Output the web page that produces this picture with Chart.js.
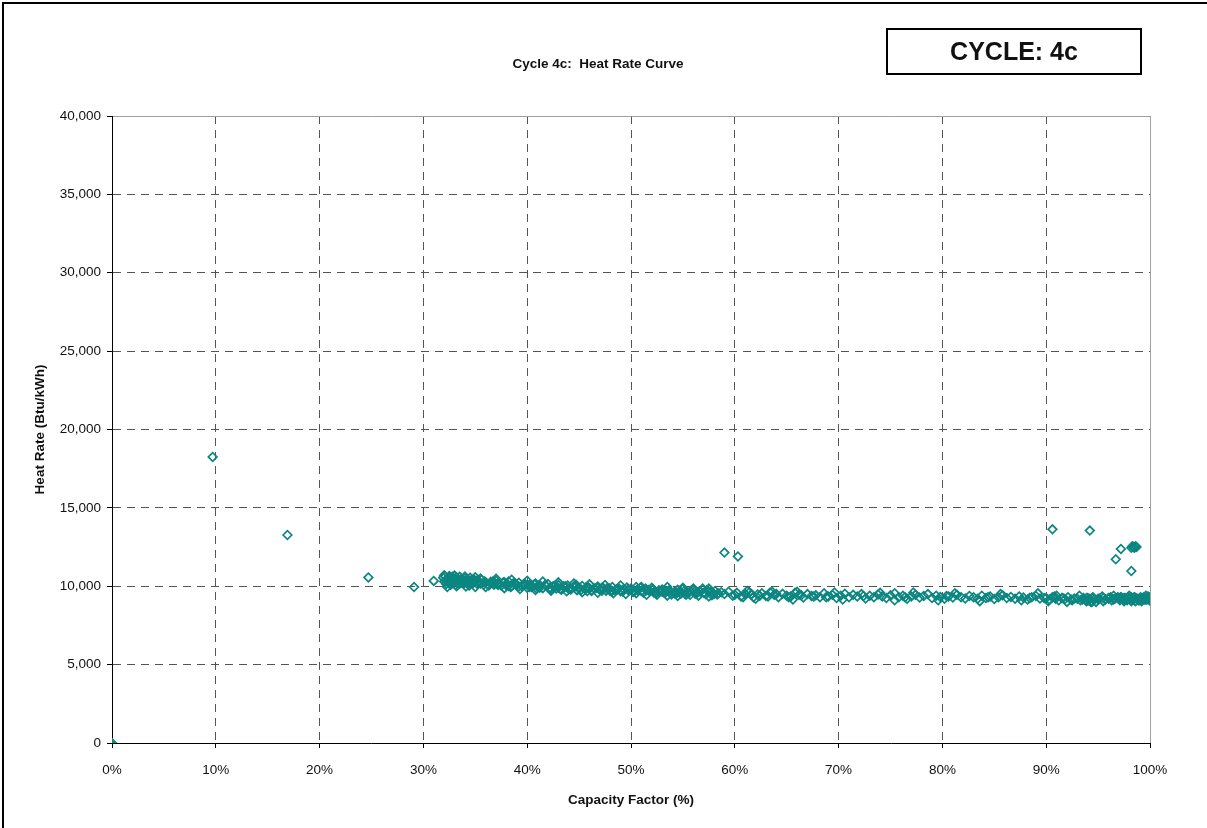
<!DOCTYPE html>
<html>
<head>
<meta charset="utf-8">
<script src="https://cdn.jsdelivr.net/npm/chart.js@4/dist/chart.umd.min.js"></script>
<style>
  html, body { margin: 0; padding: 0; background: #fff; }
  #wrap { position: relative; width: 1207px; height: 828px; overflow: hidden; }
  #frame { position: absolute; left: 2px; top: 2px; width: 1220px; height: 840px; border-top: 2px solid #000; border-left: 2px solid #000; }
  #title { position: absolute; left: 398px; width: 400px; top: 56px; text-align: center; font: bold 13.5px "Liberation Sans", Arial, sans-serif; color: #111; }
  #cycle { position: absolute; left: 886px; top: 28px; width: 252px; height: 43px; border: 2px solid #000; text-align: center; font: bold 25px "Liberation Sans", Arial, sans-serif; line-height: 43px; color: #111; }
  canvas { position: absolute; left: 0; top: 0; }
</style>
</head>
<body>
<div id="wrap">
  <canvas id="hrChart" width="1207" height="828"></canvas>
  <div id="frame"></div>
  <div id="title">Cycle 4c:&nbsp; Heat Rate Curve</div>
  <div id="cycle">CYCLE: 4c</div>
</div>
<script>
// isolated points
const outlierCapacity = [0, 9.7, 16.9, 24.7, 29.1, 31.0, 59.0, 60.3, 90.6, 94.2, 96.7, 97.2, 98.2,
  98.2, 98.3, 98.4, 98.5, 98.6, 98.7];
const outlierHeatRate = [0, 18250, 13270, 10560, 9950, 10340, 12150, 11900, 13630, 13550, 11720, 12380, 10970,
  12450, 12550, 12500, 12450, 12550, 12500];

// main band of readings
const bandCapacity = [
  31.9,32.0,32.1,32.2,32.3,32.4,32.5,32.6,32.7,32.8,
  32.2,32.4,32.6,32.8,33.0,33.2,33.4,33.6,33.8,34.0,
  33.1,33.3,33.5,33.7,33.9,34.1,34.3,34.5,34.7,34.9,
  34.2,34.4,34.6,34.8,35.0,35.2,35.4,35.6,35.8,36.0,
  35.1,35.5,35.9,36.3,36.7,
  36.5,36.8,37.0,37.2,37.5,37.8,38.0,38.2,38.5,38.8,
  39.0,39.2,39.5,39.8,40.0,40.2,40.5,40.8,41.0,41.2,
  41.5,41.8,42.0,42.2,42.5,42.8,43.0,43.3,43.6,43.9,
  44.2,44.5,44.8,45.0,45.3,45.6,45.9,46.2,46.5,46.8,
  47.0,47.3,47.6,47.9,48.2,48.5,48.8,49.0,49.3,49.6,
  37.1,38.4,39.6,40.9,42.3,43.5,44.7,45.8,47.2,48.6,
  49.8,36.9,40.4,44.0,46.0,48.0,
  50.0,50.3,50.6,50.9,51.2,51.5,51.8,52.1,52.4,52.7,
  53.0,53.3,53.6,53.9,54.2,54.5,54.8,55.1,55.4,55.7,
  56.0,56.3,56.6,56.9,57.2,57.5,57.8,58.1,58.4,58.7,
  50.5,51.4,52.5,53.4,54.4,55.3,56.4,57.3,58.3,
  51.0,53.0,55.0,57.0,
  59.0,59.4,59.8,60.2,60.6,61.0,61.4,61.8,62.2,62.6,
  63.0,63.4,63.8,64.2,64.6,65.0,65.4,65.8,66.2,66.6,
  67.0,67.4,67.8,68.2,68.6,69.0,69.4,69.8,70.2,70.6,
  71.0,71.4,71.8,72.2,72.6,73.0,73.4,73.8,74.2,74.6,
  75.0,75.4,75.8,76.2,76.6,77.0,77.4,77.8,78.2,78.6,
  79.0,79.4,79.8,80.2,80.6,81.0,81.4,81.8,82.2,82.6,
  83.0,83.4,83.8,84.2,84.6,85.0,85.4,85.8,86.2,86.6,
  87.0,87.4,87.8,88.2,88.6,89.0,89.4,89.8,
  60.0,60.8,61.6,62.4,63.2,64.0,65.2,66.4,67.6,68.8,
  72.4,76.4,80.4,84.4,88.4,
  90.0,90.3,90.6,90.9,91.2,91.5,91.8,92.1,92.4,92.7,
  93.0,93.3,93.6,93.9,94.2,94.5,94.8,95.1,95.4,95.7,
  96.0,96.3,96.6,96.9,93.8,94.0,94.4,94.6,95.0,90.8,
  91.6,92.5,93.5,
  97.0,97.2,97.4,97.6,97.8,98.0,98.2,98.4,98.6,98.8,
  99.0,99.2,99.4,99.6,99.8,100.0,97.1,97.5,97.9,98.3,
  98.7,99.1,99.5,99.9,97.3,97.7,98.1,98.5,98.9,99.3,
  99.7,99.95,99.85,99.65
];
const bandHeatRate = [
  10550,10300,10620,10150,10450,10250,10580,10100,10400,10600,
  10350,10500,10200,10480,10320,10560,10150,10420,10280,10500,
  10100,10380,10250,10460,10180,10350,10420,10120,10300,10400,
  10250,10050,10380,10200,10330,10150,10280,10420,10100,10250,
  10350,10180,10300,10050,10200,
  10280,10100,10350,10180,10050,10250,10120,10300,10000,10180,
  10080,10220,9980,10150,9900,10100,10020,10180,9950,10080,
  9880,10050,10150,9920,10000,9850,10080,9780,9950,10050,
  9850,9980,9750,9900,10020,9800,9920,9700,9850,9980,
  9780,9900,9720,9850,9950,9750,9880,9680,9820,9920,
  10150,9950,10100,9850,9800,10000,10100,9700,9900,9800,
  9750,10200,9950,9820,9880,9700,
  9850,9650,9780,9900,9600,9750,9680,9820,9550,9700,
  9800,9580,9720,9480,9650,9780,9520,9680,9600,9450,
  9750,9550,9680,9850,9500,9650,9420,9700,9550,9620,
  9950,9850,9600,9700,9550,9450,9600,9750,9480,
  9700,9650,9820,9580,
  9500,9650,9400,9580,9350,9500,9620,9300,9480,9550,
  9380,9600,9450,9300,9520,9400,9350,9580,9450,9280,
  9500,9380,9420,9300,9550,9350,9450,9250,9400,9520,
  9300,9450,9350,9500,9220,9400,9300,9480,9350,9250,
  9420,9550,9300,9400,9200,9350,9450,9280,9380,9500,
  9250,9400,9320,9200,9350,9280,9450,9300,9220,9380,
  9300,9200,9400,9250,9350,9180,9300,9420,9250,9320,
  9200,9350,9280,9150,9300,9380,9220,9250,
  9450,9300,9500,9400,9350,9500,9300,9420,9350,9300,
  9380,9300,9380,9300,9250,
  9250,9150,9300,9200,9100,9250,9180,9300,9150,9220,
  9200,9100,9250,9050,9150,9300,9000,9200,9350,9150,
  9250,9100,9200,9300,9100,9250,9000,9150,9200,9350,
  9250,9100,9150,
  9200,9300,9150,9250,9100,9200,9300,9150,9250,9200,
  9100,9250,9300,9150,9200,9250,9100,9250,9300,9150,
  9200,9300,9150,9250,9250,9150,9200,9300,9100,9200,
  9150,9100,9300,9250
];

// readings along the upper and lower edges of the band
const edgeCapacity = [
  32.0,32.5,33.0,33.5,34.0,34.5,35.0,35.5,32.3,33.2,34.1,35.0,36.0,32.7,33.6,34.5,
  37.0,38.5,40.0,41.5,43.0,44.5,46.0,47.5,49.0,37.8,39.3,40.8,42.3,43.8,45.3,46.8,48.3,49.5,38.0,41.0,43.0,45.0,47.0,49.0,
  50.5,51.5,52.5,53.5,54.5,55.5,56.5,57.5,51.0,52.0,53.5,55.0,56.0,57.5,50.2,52.2,54.2,56.2,58.0,
  61.2,63.6,66.0,69.6,74.0,77.2,81.2,85.6,89.2,62.0,65.6,70.4,75.4,79.6,83.6,87.6,
  90.2,91.0,92.0,93.2,94.1,94.3,95.5,96.5,97.5,98.0,98.6,99.2,99.6,100.0,99.8,100.0,93.9,94.2
];
const edgeHeatRate = [
  10700,10650,10680,10600,10620,10550,10580,10500,9950,10000,9980,9950,9950,10150,10200,10250,
  10480,10420,10350,10300,10250,10180,10120,10080,10050,9880,9820,9760,9720,9680,9620,9580,9550,9500,10050,10000,9900,9850,9800,9750,
  9550,9450,9450,9400,9380,9550,9400,9350,9950,9900,9950,9900,9850,9850,9700,9650,9600,9700,9500,
  9700,9650,9650,9600,9580,9600,9550,9500,9550,9200,9150,9150,9100,9100,9050,9100,
  9050,9400,9000,9400,9100,9000,9050,9400,9050,9400,9050,9050,9400,9100,9350,9300,9250,9200
];

// extra readings in the crowded stretches (36-58% and 94-100%)
const denseCapacity = [
  36.2,36.7,37.2,37.7,38.2,38.7,39.2,39.7,40.2,40.7,
  41.2,41.7,42.2,42.7,43.2,43.7,44.2,44.7,45.2,45.7,
  46.2,46.7,47.2,47.7,48.2,48.7,49.2,49.7,50.2,50.7,
  51.2,51.7,52.2,52.7,53.2,53.7,54.2,54.7,55.2,55.7,
  56.2,56.7,57.2,57.7,
  94.5,95.0,95.5,96.0,96.5,97.0,97.5,98.0,98.5,99.0,
  99.5,100.0,96.2,97.2,98.2,99.2
];
const denseHeatRate = [
  10120,10300,10080,10250,10020,10200,9980,10150,9950,10120,
  9900,10080,9870,10050,9830,10000,9800,9980,9770,9950,
  9740,9900,9720,9870,9690,9830,9660,9800,9640,9780,
  9620,9760,9600,9740,9580,9720,9560,9700,9540,9680,
  9520,9660,9500,9640,
  9250,9150,9250,9200,9150,9250,9150,9200,9300,9150,
  9200,9200,9300,9300,9050,9150
];

const xTicks = [0, 10, 20, 30, 40, 50, 60, 70, 80, 90, 100];
const yTicks = [0, 5000, 10000, 15000, 20000, 25000, 30000, 35000, 40000];

const allCapacity = outlierCapacity.concat(bandCapacity, edgeCapacity, denseCapacity);
const allHeatRate = outlierHeatRate.concat(bandHeatRate, edgeHeatRate, denseHeatRate);
const points = allCapacity.map((x, i) => ({ x: x, y: allHeatRate[i] }));

const tickFont = { family: 'Liberation Sans', size: 13.5 };
const titleFont = { family: 'Liberation Sans', size: 13.5, weight: 'bold' };
const teal = '#0c8680';

// dashed inner grid, solid grey frame on the far edge, nothing on the axis itself
function gridColor(maxVal) {
    return function(ctx) {
        if (!ctx.tick) return '#555';
        if (ctx.tick.value === 0) return 'rgba(0,0,0,0)';
        if (ctx.tick.value === maxVal) return '#a0a0a0';
        return '#555';
    };
}
function gridDash(maxVal) {
    return function(ctx) {
        if (ctx.tick && ctx.tick.value === maxVal) return [];
        return [8, 6];
    };
}

new Chart(document.getElementById('hrChart').getContext('2d'), {
    type: 'scatter',
    data: {
        datasets: [{
            label: 'Heat Rate',
            data: points,
            pointStyle: 'rectRot',
            pointRadius: 4.3,
            borderWidth: 1.7,
            borderColor: teal,
            // the zero reading sits on the axis corner and shows filled
            backgroundColor: function(ctx) {
                return ctx.dataIndex === 0 ? teal : 'rgba(0,0,0,0)';
            }
        }]
    },
    options: {
        responsive: false,
        animation: false,
        layout: { padding: { left: 0, right: 57, top: 116, bottom: 0 } },
        plugins: {
            legend: { display: false },
            tooltip: { enabled: false }
        },
        scales: {
            x: {
                type: 'linear',
                min: 0,
                max: 100,
                afterFit: function(scale) { scale.height = 85; },
                afterBuildTicks: function(scale) { scale.ticks = xTicks.map(v => ({ value: v })); },
                ticks: {
                    font: tickFont,
                    color: '#111',
                    padding: 14,
                    maxRotation: 0,
                    callback: function(value) { return value + '%'; }
                },
                grid: {
                    color: gridColor(100),
                    tickColor: '#000',
                    tickLength: 5,
                    lineWidth: 1
                },
                border: { display: true, color: '#000', width: 1, dash: gridDash(100) },
                title: {
                    display: true,
                    text: 'Capacity Factor (%)',
                    font: titleFont,
                    color: '#111',
                    padding: { top: 0, bottom: 20 }
                }
            },
            y: {
                type: 'linear',
                min: 0,
                max: 40000,
                afterFit: function(scale) { scale.width = 112; },
                afterBuildTicks: function(scale) { scale.ticks = yTicks.map(v => ({ value: v })); },
                ticks: {
                    font: tickFont,
                    color: '#111',
                    padding: 6,
                    callback: function(value) { return value.toLocaleString('en-US'); }
                },
                grid: {
                    color: gridColor(40000),
                    tickColor: '#000',
                    tickLength: 5,
                    lineWidth: 1
                },
                border: { display: true, color: '#000', width: 1, dash: gridDash(40000) },
                title: {
                    display: true,
                    text: 'Heat Rate (Btu/kWh)',
                    font: titleFont,
                    color: '#111',
                    padding: { top: 32, bottom: 0 }
                }
            }
        }
    }
});
</script>
</body>
</html>
